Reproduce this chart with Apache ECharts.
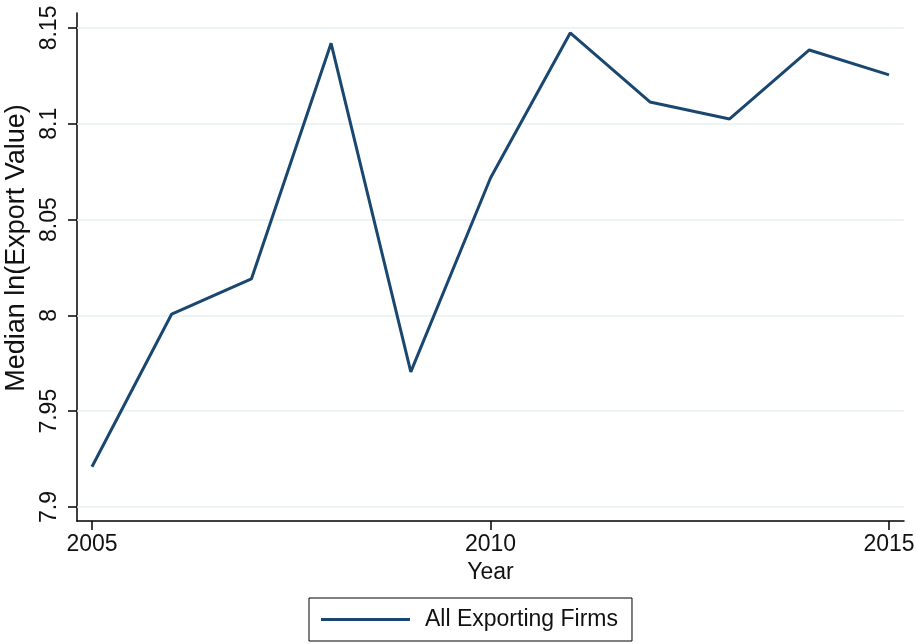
<!DOCTYPE html>
<html>
<head>
<meta charset="utf-8">
<script src="https://cdn.jsdelivr.net/npm/echarts@6/dist/echarts.min.js"></script>
<style>
html,body{margin:0;padding:0;background:#fff;}
#c{width:917px;height:644px;}
</style>
</head>
<body>
<div id="c"></div>
<script>
var years = [2005, 2006, 2007, 2008, 2009, 2010, 2011, 2012, 2013, 2014, 2015];
var medianLnExport = [7.921, 8.0007, 8.019, 8.142, 7.9705, 8.0717, 8.1474, 8.1114, 8.1025, 8.1385, 8.1255];
var xTicks = [2005, 2010, 2015];
var yTicks = [7.9, 7.95, 8, 8.05, 8.1, 8.15];
var seriesName = 'All Exporting Firms';

var FONT = 'Liberation Sans, Arial, sans-serif';
var chart = echarts.init(document.getElementById('c'));
chart.setOption({
  animation: false,
  backgroundColor: '#fff',
  grid: {left: 77, right: 13, top: 13, bottom: 123, containLabel: false, outerBoundsMode: 'none'},
  xAxis: {
    type: 'value', min: 2004.812, max: 2015.188,
    name: 'Year', nameLocation: 'middle', nameGap: 40,
    nameTextStyle: {fontFamily: FONT, fontSize: 23, color: '#111'},
    axisLine: {show: true, lineStyle: {color: '#000', width: 1.5}},
    axisTick: {show: true, length: 9, lineStyle: {color: '#000', width: 1.5}, customValues: xTicks},
    axisLabel: {fontFamily: FONT, fontSize: 23, color: '#111', margin: 12, customValues: xTicks,
      formatter: function (v) { return String(v); }},
    splitLine: {show: false}
  },
  yAxis: {
    type: 'value', min: 7.8927, max: 8.1578,
    name: 'Median ln(Export Value)', nameLocation: 'middle', nameRotate: 90, nameGap: 46,
    nameTextStyle: {fontFamily: FONT, fontSize: 27, color: '#111', padding: [0, 0, 0, 38]},
    axisLine: {show: true, lineStyle: {color: '#000', width: 1.5}},
    axisTick: {show: true, length: 9, lineStyle: {color: '#000', width: 1.5}, customValues: yTicks},
    axisLabel: {fontFamily: FONT, fontSize: 23, color: '#111', margin: 16, rotate: 90, customValues: yTicks,
      formatter: function (v) { return String(+v.toFixed(2)); }},
    splitLine: {show: false}
  },
  legend: {
    left: 309, top: 598,
    padding: [10, 14, 10, 12],
    borderColor: '#000', borderWidth: 1,
    icon: 'rect',
    itemWidth: 89, itemHeight: 3,
    textStyle: {fontFamily: FONT, fontSize: 23, color: '#111', padding: [0, 0, 0, 10]},
    data: [seriesName]
  },
  series: [{
    name: seriesName,
    type: 'line',
    data: years.map(function (y, i) { return [y, medianLnExport[i]]; }),
    symbol: 'none',
    lineStyle: {color: '#1a476f', width: 3},
    itemStyle: {color: '#1a476f'},
    z: 3,
    markLine: {
      silent: true, symbol: ['none', 'none'], label: {show: false},
      lineStyle: {color: '#e9efef', width: 1.5, type: 'solid'},
      z: 1,
      data: yTicks.map(function (v) { return {yAxis: v}; })
    }
  }]
});
</script>
</body>
</html>
